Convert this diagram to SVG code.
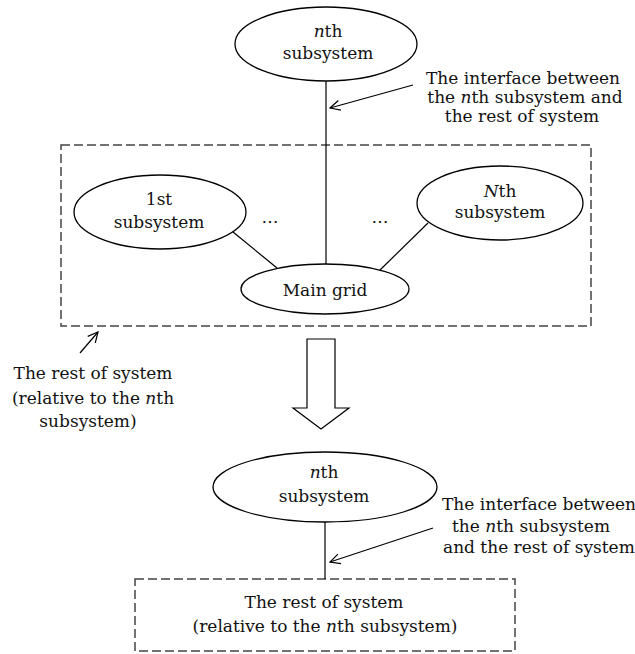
<svg xmlns="http://www.w3.org/2000/svg" width="635" height="654" viewBox="0 0 635 654">
<defs>
<marker id="ah" viewBox="0 0 12 12" refX="11" refY="6" markerWidth="12" markerHeight="12" markerUnits="userSpaceOnUse" orient="auto">
<path d="M1,1 L11,6 L1,11" fill="none" stroke="#000" stroke-width="1.2"/>
</marker>
<style>
text{font-family:"DejaVu Serif","Liberation Serif",serif;font-size:17px;fill:#111;}
.c{text-anchor:middle;}
.i{font-style:italic;}
.node{fill:#fff;stroke:#000;stroke-width:1.3;}
.ln{stroke:#000;stroke-width:1.2;fill:none;}
.dash{fill:none;stroke:#444;stroke-width:1.5;stroke-dasharray:9 4;}
</style>
</defs>
<rect width="635" height="654" fill="#fff"/>
<g id="rest-box-top"><rect class="dash" x="61" y="145" width="530" height="181"/></g>
<g id="rest-box-bottom"><rect class="dash" x="135" y="579" width="380" height="72"/>
<text class="c" x="324" y="608">The rest of system</text>
<text class="c" x="325" y="632">(relative to the <tspan class="i">n</tspan>th subsystem)</text></g>
<g id="connectors">
<line class="ln" x1="326" y1="81" x2="326" y2="264"/>
<line class="ln" x1="233" y1="232" x2="277" y2="268"/>
<line class="ln" x1="428" y1="223" x2="380" y2="270"/>
<line class="ln" x1="413" y1="85" x2="330" y2="108" marker-end="url(#ah)"/>
<line class="ln" x1="80" y1="353" x2="98" y2="332" marker-end="url(#ah)"/>
<line class="ln" x1="325" y1="522" x2="325" y2="579"/>
<line class="ln" x1="433" y1="528" x2="330" y2="562" marker-end="url(#ah)"/>
<path d="M307,339 H335 V408 H349 L321,429 L293,408 H307 Z" fill="#fff" stroke="#000" stroke-width="1.2"/>
</g>
<g id="nth-top"><ellipse class="node" cx="326" cy="44" rx="91" ry="37"/>
<text class="c" x="328" y="37"><tspan class="i">n</tspan>th</text>
<text class="c" x="328" y="59">subsystem</text></g>
<g id="label-top"><text class="c" x="523" y="84">The interface between</text>
<text class="c" x="525" y="103">the <tspan class="i">n</tspan>th subsystem and</text>
<text class="c" x="522" y="122">the rest of system</text></g>
<g id="first"><ellipse class="node" cx="160" cy="212" rx="86" ry="37"/>
<text class="c" x="159" y="205">1st</text>
<text class="c" x="159" y="228">subsystem</text></g>
<g id="Nth"><ellipse class="node" cx="500" cy="203" rx="83" ry="37"/>
<text class="c" x="500" y="197"><tspan class="i">N</tspan>th</text>
<text class="c" x="500" y="218">subsystem</text></g>
<text class="c" x="270" y="223">…</text>
<text class="c" x="380" y="223">…</text>
<g id="main-grid"><ellipse class="node" cx="325" cy="289" rx="84" ry="25"/>
<text class="c" x="325" y="296">Main grid</text></g>
<g id="label-left"><text class="c" x="93" y="379">The rest of system</text>
<text class="c" x="93" y="404">(relative to the <tspan class="i">n</tspan>th</text>
<text class="c" x="88" y="427">subsystem)</text></g>
<g id="nth-bottom"><ellipse class="node" cx="325" cy="487" rx="112" ry="35"/>
<text class="c" x="324" y="478"><tspan class="i">n</tspan>th</text>
<text class="c" x="324" y="502">subsystem</text></g>
<g id="label-bottom"><text x="442" y="510">The interface between</text>
<text x="452" y="532">the <tspan class="i">n</tspan>th subsystem</text>
<text x="443" y="553">and the rest of system</text></g>
</svg>
